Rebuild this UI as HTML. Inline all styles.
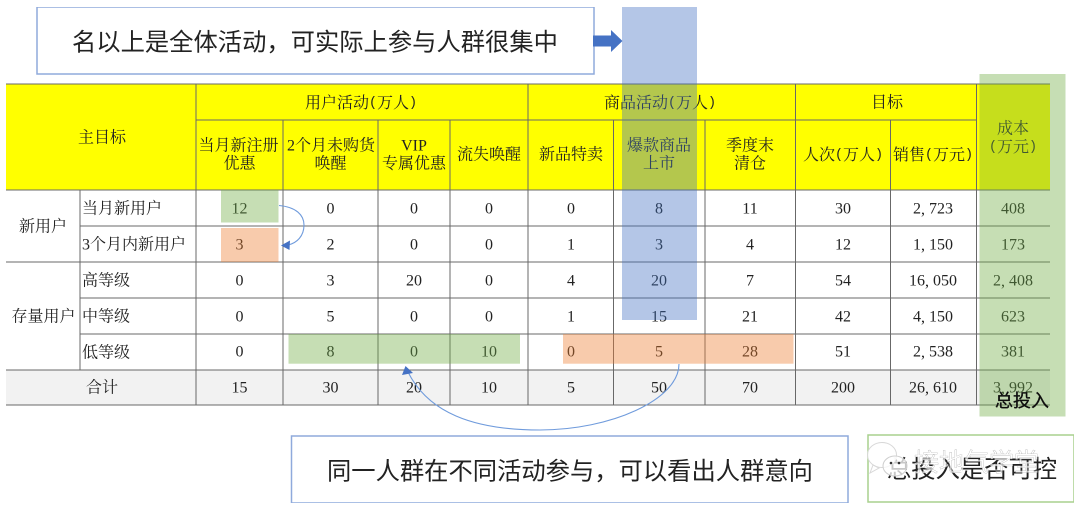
<!DOCTYPE html>
<html lang="zh">
<head>
<meta charset="utf-8">
<title>活动目标表</title>
<style>
html,body{margin:0;padding:0;background:#fff;width:1080px;height:511px;overflow:hidden}
svg{display:block;position:absolute;left:0;top:0}
.t text{font-family:"Liberation Serif","Noto Serif CJK SC",serif;font-size:16px;fill:#222;text-anchor:middle;dominant-baseline:central}
.t text.l{text-anchor:start}
.t .p{font-family:"Liberation Mono",monospace;font-size:13.4px}
.t .c{letter-spacing:4px}
.b{font-family:"Liberation Sans","Noto Sans CJK SC",sans-serif;font-size:24.3px;fill:#222;dominant-baseline:central}
</style>
</head>
<body>
<svg width="1080" height="511" viewBox="0 0 1080 511" xmlns="http://www.w3.org/2000/svg">
<defs><filter id="s" x="0" y="0" width="100%" height="100%"><feGaussianBlur stdDeviation="0.35"/></filter></defs>
<g filter="url(#s)">
<rect x="6" y="84" width="1044" height="106" fill="#ffff00"/>
<rect x="6" y="370" width="1044" height="35" fill="#f2f2f2"/>
<g stroke="#686868" stroke-width="1" fill="none">
<path d="M6 84H1050M196 120H976M6 190H1050M80 226H1050M6 262H1050M80 298H1050M80 334H1050M6 370H1050M6 405H1050"/>
<path d="M80 190V370M196 84V405M283 120V405M378 120V405M450 120V405M528 84V405M613.5 120V405M705 120V405M795.5 84V405M890.5 120V405M976.5 84V405"/>
</g>
<g class="t" transform="translate(0,1)">
<text x="102" y="137">主目标</text>
<text x="361" y="102"><tspan>用户活动</tspan><tspan class="p">(</tspan><tspan>万人</tspan><tspan class="p">)</tspan></text>
<text x="660" y="102"><tspan>商品活动</tspan><tspan class="p">(</tspan><tspan>万人</tspan><tspan class="p">)</tspan></text>
<text x="887" y="102">目标</text>
<text x="1013" y="128">成本</text><text x="1013" y="146"><tspan class="p">(</tspan><tspan>万元</tspan><tspan class="p">)</tspan></text>
<text x="238.5" y="145">当月新注册</text><text x="239.5" y="163">优惠</text>
<text x="331" y="145">2个月未购货</text><text x="330.5" y="163">唤醒</text>
<text x="414" y="145">VIP</text><text x="414" y="163">专属优惠</text>
<text x="489" y="154">流失唤醒</text>
<text x="571" y="154">新品特卖</text>
<text x="659" y="145">爆款商品</text><text x="659" y="163">上市</text>
<text x="750" y="145">季度末</text><text x="750" y="163">清仓</text>
<text x="843" y="154"><tspan>人次</tspan><tspan class="p">(</tspan><tspan>万人</tspan><tspan class="p">)</tspan></text>
<text x="933" y="154"><tspan>销售</tspan><tspan class="p">(</tspan><tspan>万元</tspan><tspan class="p">)</tspan></text>

<text x="43" y="226">新用户</text>
<text x="43.5" y="316">存量用户</text>
<text x="102" y="387">合计</text>
<text class="l" x="82" y="208">当月新用户</text>
<text class="l" x="82" y="244">3个月内新用户</text>
<text class="l" x="82" y="280">高等级</text>
<text class="l" x="82" y="316">中等级</text>
<text class="l" x="82" y="352">低等级</text>

<text x="239.5" y="208">12</text><text x="330.5" y="208">0</text><text x="414" y="208">0</text><text x="489" y="208">0</text><text x="571" y="208">0</text><text x="659" y="208">8</text><text x="750" y="208">11</text><text x="843" y="208">30</text><text x="933" y="208">2<tspan class="c">,</tspan>723</text><text x="1013" y="208">408</text>
<text x="239.5" y="244">3</text><text x="330.5" y="244">2</text><text x="414" y="244">0</text><text x="489" y="244">0</text><text x="571" y="244">1</text><text x="659" y="244">3</text><text x="750" y="244">4</text><text x="843" y="244">12</text><text x="933" y="244">1<tspan class="c">,</tspan>150</text><text x="1013" y="244">173</text>
<text x="239.5" y="280">0</text><text x="330.5" y="280">3</text><text x="414" y="280">20</text><text x="489" y="280">0</text><text x="571" y="280">4</text><text x="659" y="280">20</text><text x="750" y="280">7</text><text x="843" y="280">54</text><text x="933" y="280">16<tspan class="c">,</tspan>050</text><text x="1013" y="280">2<tspan class="c">,</tspan>408</text>
<text x="239.5" y="316">0</text><text x="330.5" y="316">5</text><text x="414" y="316">0</text><text x="489" y="316">0</text><text x="571" y="316">1</text><text x="659" y="316">15</text><text x="750" y="316">21</text><text x="843" y="316">42</text><text x="933" y="316">4<tspan class="c">,</tspan>150</text><text x="1013" y="316">623</text>
<text x="239.5" y="351">0</text><text x="330.5" y="351">8</text><text x="414" y="351">0</text><text x="489" y="351">10</text><text x="571" y="351">0</text><text x="659" y="351">5</text><text x="750" y="351">28</text><text x="843" y="351">51</text><text x="933" y="351">2<tspan class="c">,</tspan>538</text><text x="1013" y="351">381</text>
<text x="239.5" y="387">15</text><text x="330.5" y="387">30</text><text x="414" y="387">20</text><text x="489" y="387">10</text><text x="571" y="387">5</text><text x="659" y="387">50</text><text x="750" y="387">70</text><text x="843" y="387">200</text><text x="933" y="387">26<tspan class="c">,</tspan>610</text><text x="1013" y="387">3<tspan class="c">,</tspan>992</text>
</g>

<!-- translucent highlights -->
<rect x="622" y="7" width="75" height="313" fill="#4472c4" fill-opacity=".4"/>
<rect x="979.5" y="74" width="86" height="342.5" fill="#70ad47" fill-opacity=".4"/>
<rect x="221" y="190" width="57.5" height="32.5" fill="#70ad47" fill-opacity=".4"/>
<rect x="221" y="228" width="57.5" height="34" fill="#ed7d31" fill-opacity=".4"/>
<rect x="288.5" y="334" width="231.5" height="29.7" fill="#70ad47" fill-opacity=".4"/>
<rect x="563" y="334" width="230.5" height="29.7" fill="#ed7d31" fill-opacity=".4"/>

<!-- callouts -->
<rect x="37" y="7" width="557" height="67" fill="#fff" stroke="#8faadc" stroke-width="1.5"/>
<text class="b" x="72" y="43">名以上是全体活动，可实际上参与人群很集中</text>
<path d="M593 35.5H611V30L622.5 41L611 52V46.5H593Z" fill="#4472c4"/>
<rect x="291.5" y="436" width="556.5" height="67" fill="#fff" stroke="#8faadc" stroke-width="1.5"/>
<text class="b" x="327" y="472">同一人群在不同活动参与，可以看出人群意向</text>
<rect x="868" y="435" width="206" height="67" fill="#fff" stroke="#a9d18e" stroke-width="1.5"/>
<text class="b" x="887" y="470">总投入是否可控</text>
<text x="914" y="463" font-family="'Liberation Sans','Noto Sans CJK SC',sans-serif" font-size="25" fill="#fff" fill-opacity=".7" stroke="#aaa" stroke-width=".3" dominant-baseline="central">接地气学堂</text>
<text x="995" y="401" font-family="'Liberation Sans','Noto Sans CJK SC',sans-serif" font-size="18" fill="#111" stroke="#111" stroke-width=".35" dominant-baseline="central">总投入</text>

<!-- watermark icon -->
<ellipse cx="882" cy="455" rx="14.5" ry="12.5" fill="#fff" fill-opacity=".9" stroke="#d8d8d8" stroke-width="1"/>
<path d="M873 465L870 473L879 468Z" fill="#fff" stroke="#d8d8d8" stroke-width="1"/>
<ellipse cx="895" cy="466" rx="12" ry="10" fill="#fff" fill-opacity=".75" stroke="#cfcfcf" stroke-width="1"/>
<circle cx="891" cy="463" r="1.3" fill="#333"/><circle cx="899" cy="463" r="1.3" fill="#333"/>

<!-- connectors -->
<g fill="none" stroke="#6f9bdc" stroke-width="1.1">
<path d="M279 205.5C296 207 304 215 304 225C304 236 297 243 288 245"/>
<path d="M679 364C679 400 610 430 540 430C472 430 428 412 408 372"/>
</g>
<path d="M281 245.5L290 240.5L289.5 250Z" fill="#4472c4"/>
<path d="M405.5 366L413 373L402 375Z" fill="#4472c4"/>
</g>
</svg>
</body>
</html>
